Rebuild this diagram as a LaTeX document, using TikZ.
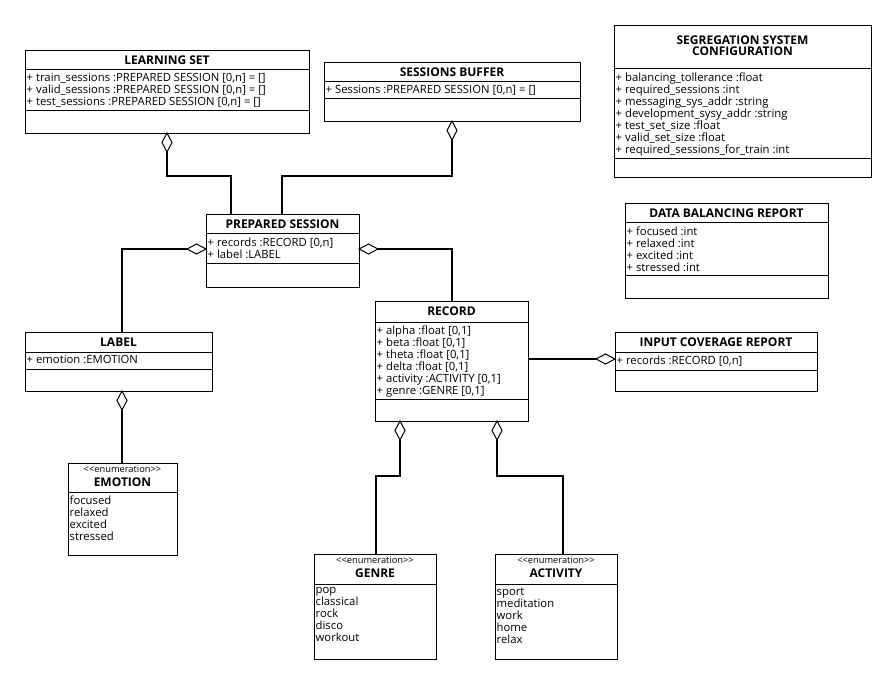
\documentclass[tikz,border=0pt]{standalone}
\usepackage{fontspec}
\setmainfont{Open Sans}
\begin{document}
\begin{tikzpicture}[x=1pt,y=-1pt,font=\fontsize{11.3}{12}\selectfont,
  box/.style={draw,line width=1pt,anchor=north west,inner sep=0pt},
  sep/.style={line width=1pt},
  title/.style={font=\fontsize{12}{11}\selectfont\bfseries,inner sep=0pt},
  stereo/.style={font=\fontsize{9.3}{9}\selectfont,inner sep=0pt},
  attr/.style={anchor=north west,align=left,inner xsep=1.5pt,inner ysep=3.5pt},
  conn/.style={line width=1.8pt},
  aggr/.pic={\draw[line width=1pt,fill=white] (0,0) -- (9.5,-5) -- (19,0) -- (9.5,5) -- cycle;}]

\useasboundingbox (0,0) rectangle (896,684);

% LEARNING SET
\node[box,minimum width=284pt,minimum height=83pt] (ls) at (25,50) {};
\draw[sep] (25,70) -- (309,70);
\draw[sep] (25,111) -- (309,111);
\node[title] at (167,60) {LEARNING SET};
\node[attr] at (25,70) {+ train\_sessions :PREPARED SESSION [0,n] = []\\
+ valid\_sessions :PREPARED SESSION [0,n] = []\\
+ test\_sessions :PREPARED SESSION [0,n] = []};

% SESSIONS BUFFER
\node[box,minimum width=256pt,minimum height=59pt] (sb) at (324,62) {};
\draw[sep] (324,82) -- (580,82);
\draw[sep] (324,99) -- (580,99);
\node[title] at (452,72) {SESSIONS BUFFER};
\node[attr] at (324,82) {+ Sessions :PREPARED SESSION [0,n] = []};

% SEGREGATION SYSTEM CONFIGURATION
\node[box,minimum width=257pt,minimum height=152pt] (segcfg) at (614,25) {};
\draw[sep] (614,69) -- (871,69);
\draw[sep] (614,159) -- (871,159);
\node[title,align=center] at (742.5,46) {SEGREGATION SYSTEM\\CONFIGURATION};
\node[attr] at (614,69) {+ balancing\_tollerance :float\\
+ required\_sessions :int\\
+ messaging\_sys\_addr :string\\
+ development\_sysy\_addr :string\\
+ test\_set\_size :float\\
+ valid\_set\_size :float\\
+ required\_sessions\_for\_train :int};

% PREPARED SESSION
\node[box,minimum width=153pt,minimum height=73pt] (ps) at (206,214) {};
\draw[sep] (206,234) -- (359,234);
\draw[sep] (206,264) -- (359,264);
\node[title] at (282.5,224) {PREPARED SESSION};
\node[attr] at (206,234) {+ records :RECORD [0,n]\\
+ label :LABEL};

% DATA BALANCING REPORT
\node[box,minimum width=203pt,minimum height=95pt] (dbr) at (625,203) {};
\draw[sep] (625,223) -- (828,223);
\draw[sep] (625,276) -- (828,276);
\node[title] at (726.5,213) {DATA BALANCING REPORT};
\node[attr] at (625,223) {+ focused :int\\
+ relaxed :int\\
+ excited :int\\
+ stressed :int};

% RECORD
\node[box,minimum width=153pt,minimum height=120pt] (rec) at (375,301) {};
\draw[sep] (375,322) -- (528,322);
\draw[sep] (375,399) -- (528,399);
\node[title] at (451.5,311.5) {RECORD};
\node[attr] at (375,322) {+ alpha :float [0,1]\\
+ beta :float [0,1]\\
+ theta :float [0,1]\\
+ delta :float [0,1]\\
+ activity :ACTIVITY [0,1]\\
+ genre :GENRE [0,1]};

% INPUT COVERAGE REPORT
\node[box,minimum width=202pt,minimum height=59pt] (icr) at (615,332) {};
\draw[sep] (615,352) -- (817,352);
\draw[sep] (615,370) -- (817,370);
\node[title] at (716,342) {INPUT COVERAGE REPORT};
\node[attr] at (615,352) {+ records :RECORD [0,n]};

% LABEL
\node[box,minimum width=187pt,minimum height=59pt] (lab) at (25,332) {};
\draw[sep] (25,352) -- (212,352);
\draw[sep] (25,369) -- (212,369);
\node[title] at (118.5,342) {LABEL};
\node[attr] at (25,352) {+ emotion :EMOTION};

% EMOTION
\node[box,minimum width=109pt,minimum height=92pt] (emo) at (68,463) {};
\draw[sep] (68,492) -- (177,492);
\node[stereo] at (122.5,469) {\textless\kern0pt\textless enumeration\textgreater\kern0pt\textgreater};
\node[title] at (122.5,482) {EMOTION};
\node[attr] at (68,492) {focused\\relaxed\\excited\\stressed};

% GENRE
\node[box,minimum width=122pt,minimum height=105pt] (gen) at (314,554) {};
\draw[sep] (314,584) -- (436,584);
\node[stereo] at (375,560) {\textless\kern0pt\textless enumeration\textgreater\kern0pt\textgreater};
\node[title] at (375,573) {GENRE};
\node[attr] at (314,584) {pop\\classical\\rock\\disco\\workout};

% ACTIVITY
\node[box,minimum width=122pt,minimum height=105pt] (act) at (495,554) {};
\draw[sep] (495,584) -- (617,584);
\node[stereo] at (556,560) {\textless\kern0pt\textless enumeration\textgreater\kern0pt\textgreater};
\node[title] at (556,573) {ACTIVITY};
\node[attr] at (495,584) {sport\\meditation\\work\\home\\relax};

% connection points
\coordinate (ps-a) at (231,214);
\coordinate (ps-b) at (282,214);
\coordinate (lab-a) at (122,332);
\coordinate (rec-a) at (452,301);
\coordinate (emo-a) at (122,463);
\coordinate (gen-a) at (376,554);
\coordinate (act-a) at (563,554);
\coordinate (rec-r) at (528,359);

% aggregations
\coordinate (ls-d) at (167,152);
\coordinate (sb-d) at (452,140);
\coordinate (psl-d) at (187,249);
\coordinate (psr-d) at (378,249);
\coordinate (lab-d) at (122,410);
\coordinate (reg-d) at (400,440);
\coordinate (rea-d) at (497,440);
\coordinate (icr-d) at (596,359);

\draw[conn] (ls-d) -- ++(0,24) -| (ps-a);
\draw[conn] (sb-d) -- ++(0,36) -| (ps-b);
\draw[conn] (psl-d) -| (lab-a);
\draw[conn] (psr-d) -| (rec-a);
\draw[conn] (lab-d) -- (emo-a);
\draw[conn] (reg-d) -- ++(0,36) -| (gen-a);
\draw[conn] (rea-d) -- ++(0,36) -| (act-a);
\draw[conn] (rec-r) -- (icr-d);

\pic[rotate=-90] at (167,133) {aggr};
\pic[rotate=-90] at (452,121) {aggr};
\pic[rotate=180] at (206,249) {aggr};
\pic at (359,249) {aggr};
\pic[rotate=-90] at (122,391) {aggr};
\pic[rotate=-90] at (400,421) {aggr};
\pic[rotate=-90] at (497,421) {aggr};
\pic at (596,359) {aggr};

\end{tikzpicture}
\end{document}
